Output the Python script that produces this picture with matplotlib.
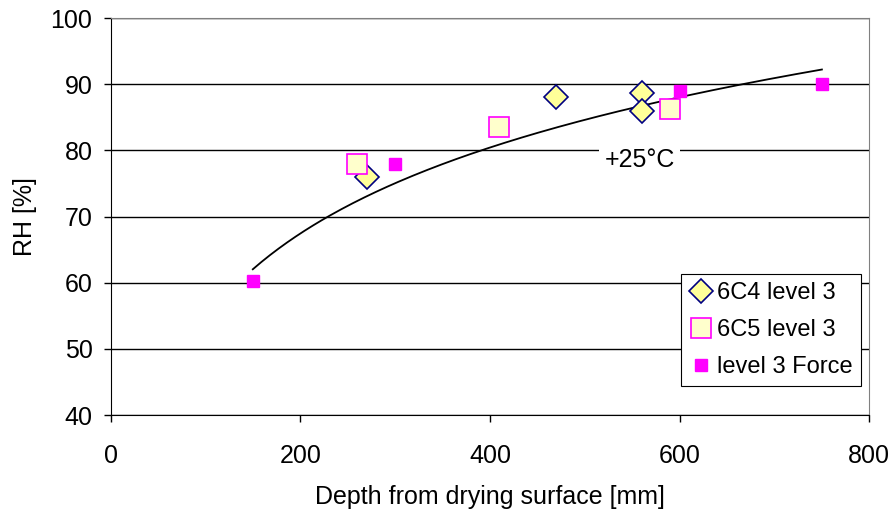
import numpy as np
import matplotlib
matplotlib.use("Agg")
import matplotlib.pyplot as plt

plt.rcParams['font.family'] = ['Liberation Sans', 'DejaVu Sans']

# data
c4_x = [270, 470, 560, 560]
c4_y = [76.0, 88.0, 88.6, 86.0]
c5_x = [260, 410, 590]
c5_y = [78.0, 83.6, 86.3]
force_x = [150, 300, 600, 750]
force_y = [60.2, 78.0, 89.0, 90.1]
xticks = [0, 200, 400, 600, 800]
yticks = [40, 50, 60, 70, 80, 90, 100]

fig = plt.figure(figsize=(8.95, 5.16), dpi=100)
ax = fig.add_axes([0.1235, 0.1957, 0.8478, 0.7694])

# logarithmic trendline fitted to Force data
a, b = np.polyfit(np.log(force_x), force_y, 1)
tx = np.linspace(min(force_x), max(force_x), 200)
ax.plot(tx, a * np.log(tx) + b, color='black', lw=1.3, zorder=3)

ax.plot(c4_x, c4_y, linestyle='none', marker='D', ms=12.5, mfc='#FFFF99',
        mec='#000080', mew=1.2, label='6C4 level 3', zorder=4)
ax.plot(c5_x, c5_y, linestyle='none', marker='s', ms=14, mfc='#FFFFCC',
        mec='#FF00FF', mew=1.2, label='6C5 level 3', zorder=4)
ax.plot(force_x, force_y, linestyle='none', marker='s', ms=8, mfc='#FF00FF',
        mec='#FF00FF', mew=1, label='level 3 Force', zorder=5)

ax.set_xlim(0, 800)
ax.set_ylim(40, 100)
ax.set_xticks(xticks)
ax.set_yticks(yticks)
ax.grid(axis='y', color='black', lw=1)
ax.set_axisbelow(True)
for s in ['top', 'right']:
    ax.spines[s].set_color('#808080')
for s in ['left', 'bottom']:
    ax.spines[s].set_color('black')
ax.tick_params(axis='both', labelsize=18, length=5, width=1, direction='out')
ax.tick_params(axis='x', pad=16)
ax.tick_params(axis='y', pad=8)

ax.set_xlabel('Depth from drying surface [mm]', fontsize=18, labelpad=12)
ax.set_ylabel('RH [%]', fontsize=18, labelpad=10)

ax.text(558, 78.5, '+25°C', fontsize=18, ha='center', va='center',
        bbox=dict(facecolor='white', edgecolor='none', pad=4), zorder=3)

leg = ax.legend(loc='lower right', bbox_to_anchor=(0.9895, 0.073), fontsize=17,
                frameon=True, fancybox=False, edgecolor='black', framealpha=1,
                borderpad=0.35, handletextpad=0.2, handlelength=1.0,
                labelspacing=0.62, borderaxespad=0)
leg.get_frame().set_linewidth(0.8)

fig.savefig('out.png', dpi=100)
